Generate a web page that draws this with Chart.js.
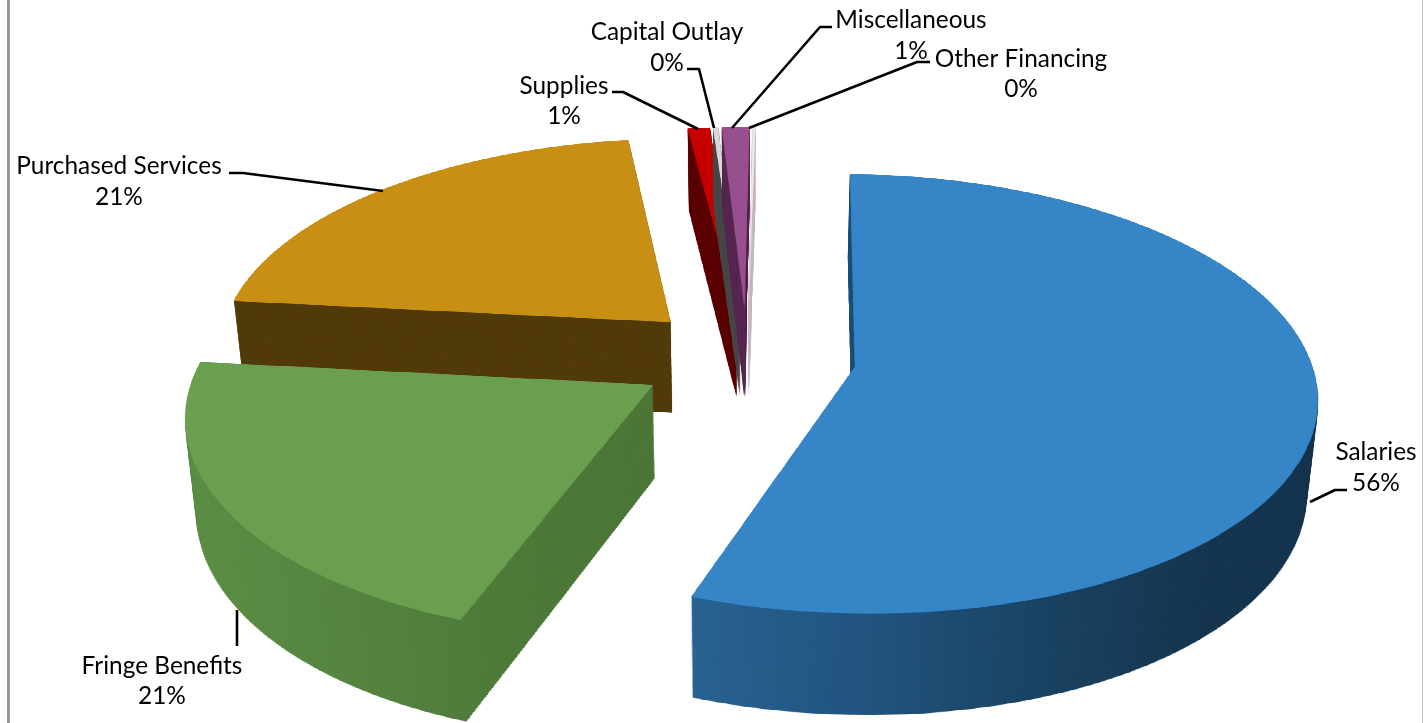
<!DOCTYPE html>
<html><head><meta charset="utf-8">
<style>html,body{margin:0;padding:0;background:#fff;overflow:hidden}canvas{display:block}</style>
<script src="https://cdn.jsdelivr.net/npm/chart.js@4"></script></head>
<body><canvas id="c" width="1423" height="723"></canvas>
<script>
const categories = ["Salaries","Fringe Benefits","Purchased Services","Supplies","Capital Outlay","Miscellaneous","Other Financing"];
const values = [55.3,21.1,21.3,0.9,0.2,1.1,0.1];
const percentLabels = ["56%","21%","21%","1%","0%","1%","0%"];
const topColors = ["#3585c7","#6a9f50","#c98f14","#c60000","#d8d8d8","#984f8d","#efe6ed"];
const wallStops = [
 ["#2a6393","#22557f","#1b4464","#173650","#173650"],
 ["#5e9148","#5a8a44","#558240","#4f7a3a","#4d7638"],
 ["#523b0a","#523b0a","#523b0a","#523b0a","#523b0a"],
 ["#5c0000","#5c0000","#5c0000","#5c0000","#5c0000"],
 ["#4a4a4a","#4a4a4a","#4a4a4a","#4a4a4a","#4a4a4a"],
 ["#5a2a55","#5a2a55","#5a2a55","#5a2a55","#5a2a55"],
 ["#c8bcc6","#c8bcc6","#c8bcc6","#c8bcc6","#c8bcc6"]
];
const drawOrder = [2,3,4,6,5,1,0];
const explode = 0.24;

// perspective projection of the pie plane
const P = {cx:747, cy:357, A:214, B:455, q:0.123, depth:92, depthV:9, shrink:0.02};
const SRC = 500, OFF = 1500;

function midOffset(el){const m=(el.startAngle+el.endAngle)/2;return [Math.cos(m)*explode,Math.sin(m)*explode];}
function renderSlice(el, color, stops, b){
  const c = document.createElement('canvas'); c.width = c.height = OFF;
  const g = c.getContext('2d'); const o=midOffset(el);
  g.save(); g.translate(OFF/2+o[0]*SRC,OFF/2+o[1]*SRC); const k = SRC/el.outerRadius; g.scale(k,k); g.translate(-el.x,-el.y);
  el.draw(g); g.restore();
  g.globalCompositeOperation='source-in';
  if(stops){
    const gr = g.createLinearGradient(OFF/2+SRC*b.x0,0,OFF/2+SRC*b.x1,0);
    stops.forEach((s,i)=>gr.addColorStop(i/(stops.length-1),s));
    g.fillStyle=gr;
  } else g.fillStyle=color;
  g.fillRect(0,0,OFF,OFF);
  return c;
}
function bbox(el){
  const o=midOffset(el);
  let x0=o[0],x1=o[0],y0=o[1],y1=o[1];
  for(let i=0;i<=100;i++){const a=el.startAngle+(el.endAngle-el.startAngle)*i/100,x=o[0]+Math.cos(a),y=o[1]+Math.sin(a);
    x0=Math.min(x0,x);x1=Math.max(x1,x);y0=Math.min(y0,y);y1=Math.max(y1,y);}
  return {x0:x0-.01,x1:x1+.01,y0:y0-.01,y1:y1+.01};
}
function drawWarp(ctx,img,b,dv,t){
  for(let v=b.y0;v<b.y1;v+=dv){
    const vm=v+dv/2, w=1/(1-P.q*vm), s=1-P.shrink*t, dy=t*(P.depth+P.depthV*vm);
    const y1=P.cy+P.A*v/(1-P.q*v)+dy, y2=P.cy+P.A*(v+dv)/(1-P.q*(v+dv))+dy;
    const dx0=P.cx+P.B*b.x0*w*s, dw=P.B*(b.x1-b.x0)*w*s;
    ctx.drawImage(img,OFF/2+b.x0*SRC,OFF/2+v*SRC,(b.x1-b.x0)*SRC,dv*SRC,dx0,y1,dw,y2-y1+0.7);
  }
}
const labels = [
 {i:0,x:1376,y:[452,483],line:[[1347,490],[1335,490],[1310,502]]},
 {i:1,x:162,y:[666,696],line:[[237,610],[237,646]]},
 {i:2,x:119,y:[166,197],line:[[229,173],[243,173],[383,191]]},
 {i:3,x:564,y:[86,116],line:[[612,92],[623,92],[698,129]]},
 {i:4,x:667,y:[32,63],line:[[687,69],[699,69],[714,128]]},
 {i:5,x:911,y:[20,51],line:[[832,27],[820,27],[732,128]]},
 {i:6,x:1021,y:[59,89],line:[[930,62],[917,62],[749,128]]}
];
const pie3d = {
  id:'pie3d',
  beforeDatasetsDraw(chart){
    const ctx=chart.ctx, arcs=chart.getDatasetMeta(0).data;
    ctx.save();
    ctx.fillStyle='#9a9a9a'; ctx.fillRect(7,0,3,723); ctx.fillStyle='#c4c4c4'; ctx.fillRect(1422,0,1,723);
    for(const i of drawOrder){
      const el=arcs[i], b=bbox(el);
      const wall=renderSlice(el,null,wallStops[i],b), top=renderSlice(el,topColors[i],null,b);
      const D=P.depth+P.depthV;
      for(let d=D;d>0;d-=1) drawWarp(ctx,wall,b,0.012,d/D);
      drawWarp(ctx,top,b,0.004,0);
    }
    ctx.restore();
    return false;
  },
  afterDraw(chart){
    const ctx=chart.ctx; ctx.save();
    ctx.strokeStyle='#000'; ctx.lineWidth=2.6; ctx.lineJoin='round';
    ctx.fillStyle='#000'; ctx.font='24.4px Lato'; ctx.textAlign='center'; ctx.textBaseline='middle';
    for(const l of labels){
      ctx.beginPath(); l.line.forEach((p,k)=>k?ctx.lineTo(p[0],p[1]):ctx.moveTo(p[0],p[1])); ctx.stroke();
      ctx.fillText(categories[l.i],l.x,l.y[0]); ctx.fillText(percentLabels[l.i],l.x,l.y[1]);
    }
    ctx.restore();
  }
};
new Chart(document.getElementById('c'),{
  type:'pie',
  data:{labels:categories,datasets:[{data:values,backgroundColor:topColors,borderWidth:0}]},
  options:{responsive:false,animation:false,rotation:1,layout:{padding:0},
    plugins:{legend:{display:false},tooltip:{enabled:false},title:{display:false}}},
  plugins:[pie3d]
});
</script></body></html>
